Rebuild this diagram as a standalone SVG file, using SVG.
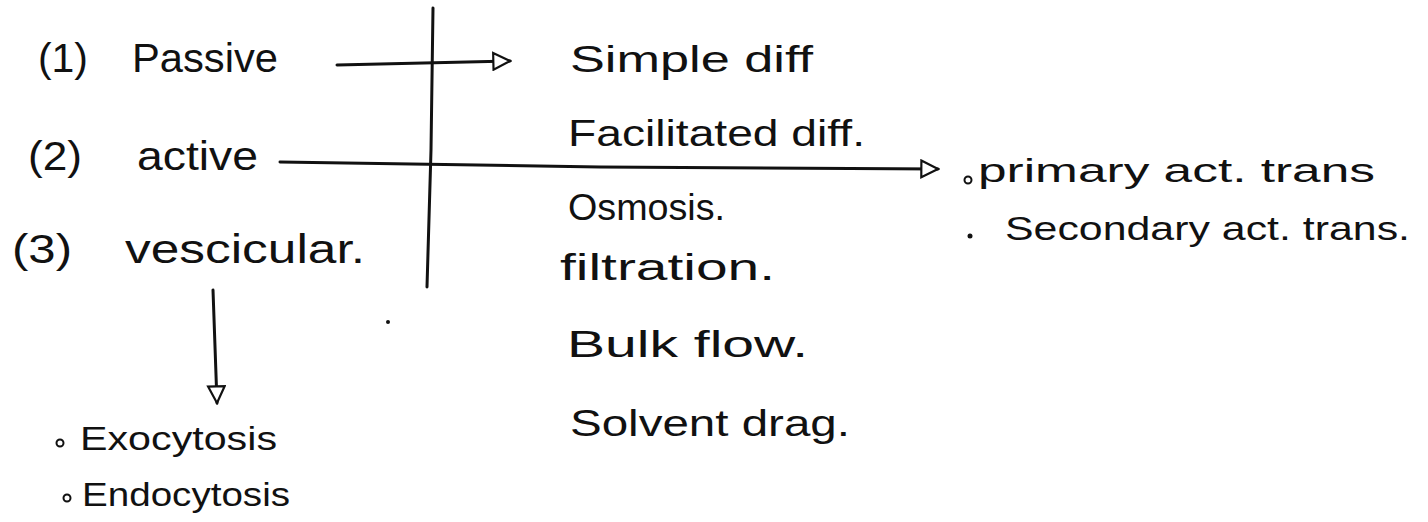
<svg xmlns="http://www.w3.org/2000/svg" width="1428" height="522" viewBox="0 0 1428 522">
<defs>
<marker id="tri" viewBox="0 0 12 12" refX="11" refY="6" markerWidth="7" markerHeight="7" markerUnits="userSpaceOnUse" orient="auto">
<path d="M1,1 L11,6 L1,11 Z" fill="#fff" stroke="#111" stroke-width="2"/>
</marker>
<marker id="triL" viewBox="0 0 12 12" refX="11" refY="6" markerWidth="20" markerHeight="20" markerUnits="userSpaceOnUse" orient="auto">
<path d="M1,1 L11,6 L1,11 Z" fill="#fff" stroke="#111" stroke-width="1.3"/>
</marker>
</defs>
<style>
text{font-family:"Liberation Sans",Arial,sans-serif;fill:#111;}
.h{font-size:40px;}
.c{font-size:36px;}
.r{font-size:33px;}
.b{font-size:34px;}
.ln{stroke:#111;stroke-width:3;fill:none;stroke-linecap:round;}
</style>
<rect width="1428" height="522" fill="#fff"/>
<g id="divider">
<path class="ln" d="M433,8 L431,150 L427,287"/>
</g>
<g id="passive">
<text class="h" x="38" y="72" textLength="50" lengthAdjust="spacingAndGlyphs">(1)</text>
<text class="h" x="132" y="72" textLength="146" lengthAdjust="spacingAndGlyphs">Passive</text>
</g>
<g id="active">
<text class="h" x="28" y="170" textLength="54" lengthAdjust="spacingAndGlyphs">(2)</text>
<text class="h" x="137" y="170" textLength="121" lengthAdjust="spacingAndGlyphs">active</text>
</g>
<g id="vesicular">
<text class="h" x="12" y="263" textLength="60" lengthAdjust="spacingAndGlyphs">(3)</text>
<text class="h" x="125" y="263" textLength="240" lengthAdjust="spacingAndGlyphs">vescicular.</text>
</g>
<g id="passive-types">
<text class="c" x="570" y="72" textLength="243" lengthAdjust="spacingAndGlyphs">Simple diff</text>
<text class="c" x="568" y="146" textLength="297" lengthAdjust="spacingAndGlyphs">Facilitated diff.</text>
<text class="c" x="568" y="220" textLength="157" lengthAdjust="spacingAndGlyphs">Osmosis.</text>
<text class="c" x="560" y="280" textLength="215" lengthAdjust="spacingAndGlyphs">filtration.</text>
<text class="c" x="567" y="357" textLength="241" lengthAdjust="spacingAndGlyphs">Bulk flow.</text>
<text class="c" x="570" y="436" textLength="280" lengthAdjust="spacingAndGlyphs">Solvent drag.</text>
</g>
<g id="active-types">
<circle cx="968" cy="180" r="3.5" fill="none" stroke="#111" stroke-width="2"/>
<text class="r" x="978" y="182" textLength="397" lengthAdjust="spacingAndGlyphs">primary act. trans</text>
<circle cx="970" cy="236" r="2.5" fill="#111"/>
<text class="r" x="1005" y="240" textLength="405" lengthAdjust="spacingAndGlyphs">Secondary act. trans.</text>
</g>
<g id="vesicular-types">
<circle cx="60" cy="443" r="3.5" fill="none" stroke="#111" stroke-width="2"/>
<text class="b" x="80" y="450" textLength="197" lengthAdjust="spacingAndGlyphs">Exocytosis</text>
<circle cx="67" cy="498" r="3.5" fill="none" stroke="#111" stroke-width="2"/>
<text class="b" x="82" y="506" textLength="208" lengthAdjust="spacingAndGlyphs">Endocytosis</text>
</g>
<g id="connectors">
<path class="ln" d="M337,65 L510,61" marker-end="url(#triL)"/>
<path class="ln" d="M280,162 L600,167 L938,169" marker-end="url(#triL)"/>
<path class="ln" d="M213,290 L217,403" marker-end="url(#triL)"/>
</g>
<circle cx="388" cy="322" r="2" fill="#111"/>
</svg>
